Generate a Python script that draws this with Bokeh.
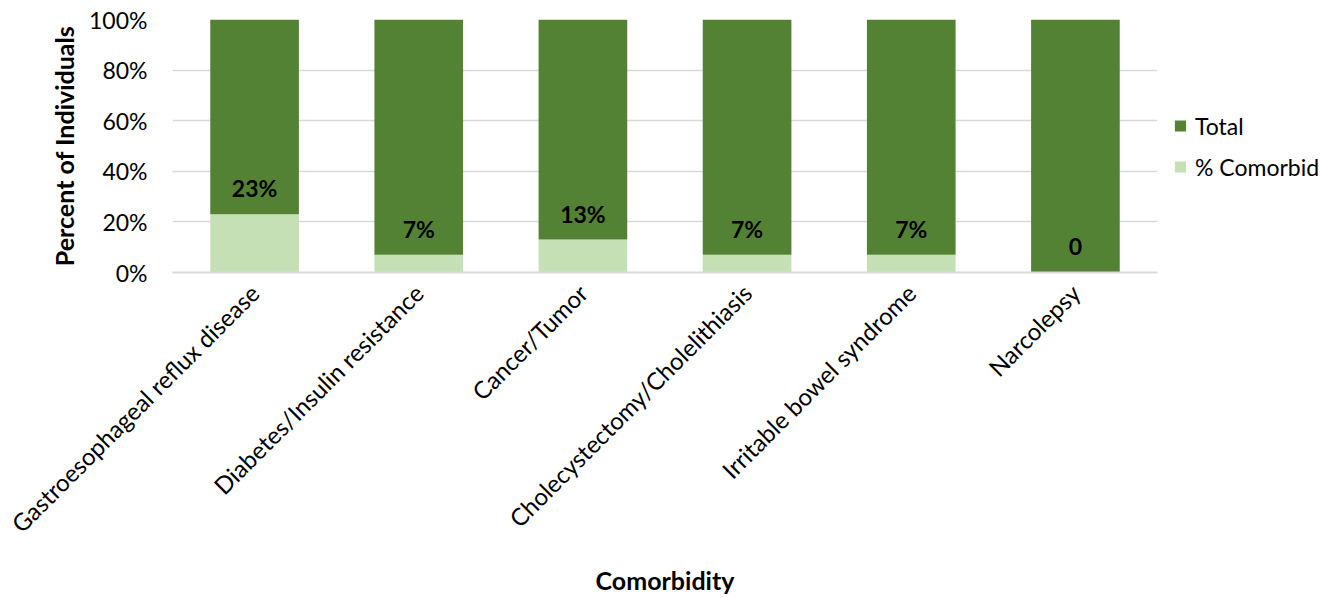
from bokeh.plotting import figure
from bokeh.models import ColumnDataSource, Legend, LegendItem, PrintfTickFormatter, Range1d
from bokeh.core.properties import value
from bokeh.embed import file_html
from bokeh.resources import INLINE
import math

categories = ["Gastroesophageal reflux disease", "Diabetes/Insulin resistance", "Cancer/Tumor",
              "Cholecystectomy/Cholelithiasis", "Irritable bowel syndrome", "Narcolepsy"]
comorbid = [23, 7, 13, 7, 7, 0]
total = [77, 93, 87, 93, 93, 100]
labels = ["23%", "7%", "13%", "7%", "7%", "0"]
y_ticks = [0, 20, 40, 60, 80, 100]

FONT = "Lato"
DARK = "#548235"
LIGHT = "#C5E0B4"

src = ColumnDataSource(dict(cat=categories, comorbid=comorbid, total=total, labels=labels))

p = figure(x_range=categories, y_range=Range1d(0, 100),
           frame_width=985, frame_height=253,
           output_backend="svg", toolbar_location=None,
           min_border_left=172, min_border_right=0, min_border_top=19, min_border_bottom=326)
p.outline_line_color = None

r = p.vbar_stack(["comorbid", "total"], x="cat", width=0.54, color=[LIGHT, DARK],
                 line_color=None, source=src)

p.text(x="cat", y="comorbid", text="labels", source=src, text_align="center",
       text_baseline="middle", y_offset=-26, text_font=value(FONT),
       text_font_style="bold", text_font_size="23px", text_color="black")

# axes
p.yaxis.ticker = y_ticks
p.yaxis.formatter = PrintfTickFormatter(format="%d%%")
p.yaxis.axis_line_color = None
p.yaxis.major_tick_line_color = None
p.yaxis.minor_tick_line_color = None
p.yaxis.major_label_text_font = FONT
p.yaxis.major_label_text_font_size = "23px"
p.yaxis.major_label_text_color = "black"
p.yaxis.major_label_standoff = 19
p.yaxis.axis_label = "Percent of Individuals"
p.yaxis.axis_label_text_font = FONT
p.yaxis.axis_label_text_font_size = "25px"
p.yaxis.axis_label_text_font_style = "bold"
p.yaxis.axis_label_text_color = "black"
p.yaxis.axis_label_standoff = 7

p.xaxis.axis_line_color = "#d9d9d9"
p.xaxis.axis_line_width = 2
p.xaxis.major_tick_line_color = None
p.xaxis.minor_tick_line_color = None
p.xaxis.major_label_orientation = math.pi / 4
p.xaxis.major_label_text_font = FONT
p.xaxis.major_label_text_font_size = "24px"
p.xaxis.major_label_text_color = "black"
p.xaxis.major_label_standoff = 10
p.xaxis.axis_label = "Comorbidity"
p.xaxis.axis_label_text_font = FONT
p.xaxis.axis_label_text_font_size = "25px"
p.xaxis.axis_label_text_font_style = "bold"
p.xaxis.axis_label_text_color = "black"
p.xaxis.axis_label_standoff = 14

p.xgrid.grid_line_color = None
p.ygrid.grid_line_color = "#d9d9d9"
p.ygrid.grid_line_width = 1.5

legend = Legend(items=[LegendItem(label="Total", renderers=[r[1]]),
                       LegendItem(label="% Comorbid", renderers=[r[0]])],
                location="left", border_line_color=None, background_fill_alpha=0,
                label_text_font=FONT, label_text_font_size="23px", label_text_color="black",
                glyph_width=14, glyph_height=14, label_height=26, spacing=13,
                label_standoff=8, padding=0, margin=16)
p.add_layout(legend, "right")

open("out.html", "w").write(file_html(p, INLINE))
